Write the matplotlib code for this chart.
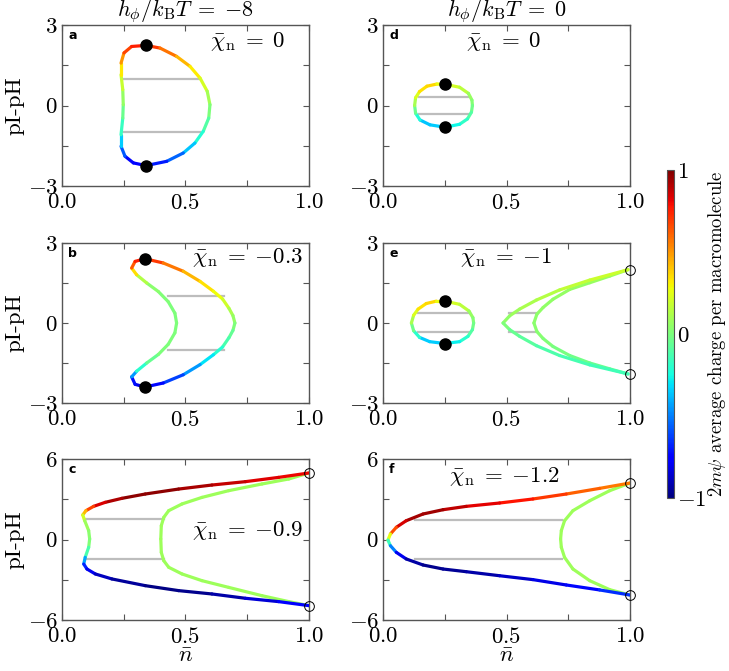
import numpy as np
import matplotlib
matplotlib.use("Agg")
import matplotlib.pyplot as plt
from matplotlib.collections import LineCollection
from matplotlib.colors import Normalize
from matplotlib.cm import ScalarMappable

plt.rcParams['font.family'] = 'serif'
plt.rcParams['font.serif'] = ['cmr10']
plt.rcParams['mathtext.fontset'] = 'cm'
plt.rcParams['axes.unicode_minus'] = False

# ---- panel a (h/kT=-8, chi=0) : closed loop from the top dot, clockwise ----
a_n = [0.340, 0.397, 0.464, 0.518, 0.559, 0.588, 0.599, 0.594, 0.572, 0.538, 0.491, 0.424, 0.340,
       0.289, 0.255, 0.239, 0.239, 0.246, 0.248, 0.246, 0.239, 0.239, 0.251, 0.282, 0.340]
a_y = [2.24, 2.14, 1.83, 1.46, 1.02, 0.53, 0.03, -0.47, -0.96, -1.40, -1.77, -2.08, -2.24,
       -2.14, -1.89, -1.52, -1.09, -0.47, 0.03, 0.59, 1.15, 1.58, 1.96, 2.20, 2.24]
a_q = [0.75, 0.65, 0.50, 0.36, 0.28, 0.15, 0.05, -0.05, -0.15, -0.28, -0.45, -0.65, -0.75,
       -0.80, -0.70, -0.45, -0.25, -0.08, 0.0, 0.12, 0.25, 0.40, 0.60, 0.75, 0.75]
a_dots_n = [0.340, 0.340]
a_dots_y = [2.24, -2.24]
a_tie_y = [0.99, -1.0]
a_tie_lo = [0.246, 0.246]
a_tie_hi = [0.56, 0.56]

# ---- panel b (h/kT=-8, chi=-0.3) ----
b_n = [0.336, 0.410, 0.491, 0.559, 0.613, 0.650, 0.676, 0.692, 0.700, 0.692, 0.676, 0.650, 0.613,
       0.559, 0.491, 0.410, 0.336, 0.296, 0.282, 0.302, 0.343, 0.390, 0.430, 0.457, 0.464,
       0.457, 0.430, 0.390, 0.343, 0.302, 0.282, 0.296, 0.336]
b_y = [2.41, 2.25, 1.94, 1.56, 1.19, 0.90, 0.55, 0.28, 0.0, -0.28, -0.55, -0.90, -1.19,
       -1.56, -1.94, -2.25, -2.40, -2.30, -2.02, -1.81, -1.50, -1.18, -0.80, -0.37, 0.0,
       0.37, 0.80, 1.18, 1.50, 1.81, 2.06, 2.31, 2.41]
b_q = [0.75, 0.65, 0.48, 0.38, 0.30, 0.25, 0.15, 0.08, 0.03, -0.03, -0.08, -0.16, -0.25,
       -0.35, -0.55, -0.70, -0.78, -0.85, -0.60, -0.30, -0.10, 0.0, 0.0, 0.0, 0.0,
       0.0, 0.0, 0.02, 0.05, 0.20, 0.50, 0.75, 0.75]
b_dots_n = [0.336, 0.336]
b_dots_y = [2.41, -2.40]
b_tie_y = [1.02, -1.0]
b_tie_lo = [0.43, 0.43]
b_tie_hi = [0.655, 0.655]

# ---- panel c (h/kT=-8, chi=-0.9) ----
c_out_n = [1.0, 0.877, 0.742, 0.607, 0.472, 0.337, 0.243, 0.175, 0.128, 0.097, 0.084, 0.092, 0.108,
           0.112, 0.108, 0.094, 0.088, 0.101, 0.135, 0.202, 0.337, 0.472, 0.607, 0.742, 0.877, 1.0]
c_out_y = [4.96, 4.63, 4.31, 4.06, 3.76, 3.39, 3.07, 2.77, 2.47, 2.15, 1.83, 1.40, 0.66,
           0.04, -0.58, -1.33, -1.83, -2.20, -2.57, -2.94, -3.44, -3.81, -4.06, -4.38, -4.63, -4.93]
c_out_q = [0.80, 0.82, 0.85, 0.90, 0.95, 1.0, 0.95, 0.88, 0.80, 0.55, 0.30, 0.12, 0.05,
           0.02, 0.0, -0.25, -0.60, -0.75, -0.85, -0.92, -0.98, -1.0, -0.95, -0.90, -0.80, -0.75]
c_in_n = [1.0, 0.918, 0.810, 0.675, 0.567, 0.486, 0.432, 0.412, 0.402, 0.400,
          0.402, 0.412, 0.432, 0.486, 0.567, 0.675, 0.810, 0.918, 1.0]
c_in_y = [4.96, 4.51, 4.14, 3.64, 3.14, 2.65, 2.15, 1.65, 1.03, 0.04,
          -0.96, -1.58, -2.07, -2.57, -3.07, -3.57, -4.19, -4.63, -4.93]
c_in_q = [0.08] * len(c_in_n)
c_open_n = [1.0, 1.0]
c_open_y = [4.96, -4.93]
c_tie_y = [1.53, -1.45]
c_tie_lo = [0.088, 0.092]
c_tie_hi = [0.412, 0.412]

# ---- panel d (h/kT=0, chi=0) ----
d_n = [0.251, 0.31, 0.346, 0.360, 0.362, 0.358, 0.342, 0.31, 0.251, 0.19, 0.150, 0.132, 0.128,
       0.132, 0.148, 0.178, 0.218, 0.251]
d_y = [0.79, 0.68, 0.45, 0.2, 0.0, -0.25, -0.5, -0.70, -0.81, -0.72, -0.54, -0.29, 0.0,
       0.29, 0.52, 0.72, 0.80, 0.79]
d_q = [0.22, 0.20, 0.10, 0.04, 0.0, -0.05, -0.15, -0.22, -0.30, -0.40, -0.32, -0.12, 0.03,
       0.18, 0.28, 0.40, 0.32, 0.22]
d_dots_n = [0.251, 0.251]
d_dots_y = [0.79, -0.81]
d_tie_y = [0.33, -0.33]
d_tie_lo = [0.146, 0.146]
d_tie_hi = [0.351, 0.351]

# ---- panel e (h/kT=0, chi=-1) ----
e_n = [0.250, 0.31, 0.348, 0.364, 0.367, 0.362, 0.344, 0.31, 0.250, 0.189, 0.148, 0.124, 0.115,
       0.124, 0.142, 0.175, 0.216, 0.250]
e_y = [0.82, 0.70, 0.45, 0.20, 0.0, -0.25, -0.50, -0.70, -0.77, -0.70, -0.54, -0.29, 0.0,
       0.29, 0.52, 0.73, 0.82, 0.82]
e_q = [0.22, 0.20, 0.10, 0.04, 0.0, -0.05, -0.15, -0.25, -0.30, -0.40, -0.30, -0.10, 0.05,
       0.18, 0.28, 0.40, 0.32, 0.22]
e_dots_n = [0.250, 0.250]
e_dots_y = [0.82, -0.77]
e_l_n = [0.992, 0.837, 0.715, 0.621, 0.553, 0.513, 0.486, 0.513, 0.553, 0.621, 0.715, 0.837, 0.992]
e_l_y = [2.0, 1.61, 1.24, 0.86, 0.52, 0.27, 0.0, -0.25, -0.50, -0.85, -1.22, -1.57, -1.91]
e_l_q = [0.20, 0.18, 0.15, 0.12, 0.10, 0.07, 0.03, -0.03, -0.07, -0.10, -0.12, -0.14, -0.15]
e_r_n = [0.992, 0.918, 0.837, 0.756, 0.688, 0.648, 0.623, 0.611, 0.623, 0.648, 0.688, 0.756, 0.837, 0.918, 0.992]
e_r_y = [2.0, 1.76, 1.51, 1.26, 0.89, 0.58, 0.33, 0.0, -0.32, -0.58, -0.88, -1.22, -1.50, -1.72, -1.91]
e_r_q = [0.08, 0.07, 0.06, 0.06, 0.05, 0.05, 0.05, 0.04, 0.03, 0.02, 0.0, -0.02, -0.04, -0.06, -0.08]
e_open_n = [1.0, 1.0]
e_open_y = [2.0, -1.91]
e_tie_y = [0.37, -0.32, 0.37, -0.32]
e_tie_lo = [0.142, 0.142, 0.51, 0.51]
e_tie_hi = [0.354, 0.354, 0.623, 0.623]

# ---- panel f (h/kT=0, chi=-1.2) ----
f_out_n = [1.0, 0.877, 0.742, 0.607, 0.472, 0.337, 0.243, 0.162, 0.094, 0.054, 0.030, 0.020,
           0.030, 0.054, 0.094, 0.162, 0.243, 0.337, 0.472, 0.607, 0.742, 0.877, 1.0]
f_out_y = [4.21, 3.81, 3.39, 3.02, 2.72, 2.47, 2.22, 1.90, 1.40, 0.91, 0.41, -0.04,
           -0.46, -0.96, -1.45, -1.90, -2.20, -2.40, -2.70, -2.99, -3.39, -3.76, -4.14]
f_out_q = [0.55, 0.58, 0.65, 0.75, 0.80, 0.85, 0.92, 0.97, 0.90, 0.80, 0.50, 0.0,
           -0.30, -0.70, -0.90, -0.97, -0.97, -0.95, -0.90, -0.85, -0.78, -0.70, -0.62]
f_in_n = [1.0, 0.918, 0.837, 0.769, 0.735, 0.722, 0.719, 0.722, 0.735, 0.769, 0.837, 0.918, 1.0]
f_in_y = [4.21, 3.64, 2.89, 2.15, 1.40, 0.66, 0.04, -0.58, -1.33, -2.20, -3.07, -3.74, -4.14]
f_in_q = [0.08] * len(f_in_n)
f_open_n = [1.0, 1.0]
f_open_y = [4.21, -4.14]
f_tie_y = [1.48, -1.45]
f_tie_lo = [0.128, 0.128]
f_tie_hi = [0.726, 0.726]

cmap = plt.get_cmap('jet')
norm = Normalize(-1, 1)


def draw_curve(ax, n, y, q):
    pts = np.column_stack([n, y]).reshape(-1, 1, 2)
    segs = np.concatenate([pts[:-1], pts[1:]], axis=1)
    qq = np.asarray(q, dtype=float)
    lc = LineCollection(segs, cmap=cmap, norm=norm, linewidth=2.3, capstyle='round',
                        joinstyle='round', zorder=3)
    lc.set_array(0.5 * (qq[:-1] + qq[1:]))
    ax.add_collection(lc)


def draw_ties(ax, ty, lo, hi):
    for yy, a, b in zip(ty, lo, hi):
        ax.plot([a, b], [yy, yy], color='#bdbdbd', lw=1.6, zorder=2)


fig = plt.figure(figsize=(7.29, 6.71), dpi=100)
W, H = 729, 671


def make_ax(x0, y0, x1, y1):
    return fig.add_axes([x0 / W, 1 - y1 / H, (x1 - x0) / W, (y1 - y0) / H])


axa = make_ax(62, 25, 309, 186)
axb = make_ax(62, 243, 309, 403)
axc = make_ax(62, 459, 309, 620)
axd = make_ax(383, 25, 630, 186)
axe = make_ax(383, 243, 630, 403)
axf = make_ax(383, 459, 630, 620)

for ax, lim in [(axa, 3), (axb, 3), (axd, 3), (axe, 3), (axc, 6), (axf, 6)]:
    ax.set_xlim(0, 1)
    ax.set_ylim(-lim, lim)
    ax.set_xticks([0, 0.5, 1.0])
    ax.set_xticklabels(['$0.0$', '$0.5$', '$1.0$'])
    ax.set_xticks([0.25, 0.75], minor=True)
    ax.set_yticks([-lim, 0, lim])
    ax.set_yticklabels(['$-%d$' % lim, '$0$', '$%d$' % lim])
    ax.set_yticks([-lim / 2, lim / 2], minor=True)
    ax.tick_params(which='both', direction='in', top=True, right=True, labelsize=16.5,
                   color='#555555', length=4, width=0.8)
    ax.tick_params(axis='x', pad=5)
    ax.tick_params(axis='y', pad=3)
    for s in ax.spines.values():
        s.set_color('#555555')
        s.set_linewidth(1.0)

dot = dict(color='black', ms=8, zorder=5, ls='none', marker='o')
ring = dict(mfc='none', mec='black', mew=0.7, ms=7, zorder=5, clip_on=False, ls='none', marker='o')

# panel a
draw_ties(axa, a_tie_y, a_tie_lo, a_tie_hi)
draw_curve(axa, a_n, a_y, a_q)
axa.plot(a_dots_n, a_dots_y, **dot)

# panel b
draw_ties(axb, b_tie_y, b_tie_lo, b_tie_hi)
draw_curve(axb, b_n, b_y, b_q)
axb.plot(b_dots_n, b_dots_y, **dot)

# panel c
draw_ties(axc, c_tie_y, c_tie_lo, c_tie_hi)
draw_curve(axc, c_in_n, c_in_y, c_in_q)
draw_curve(axc, c_out_n, c_out_y, c_out_q)
axc.plot(c_open_n, c_open_y, **ring)

# panel d
draw_ties(axd, d_tie_y, d_tie_lo, d_tie_hi)
draw_curve(axd, d_n, d_y, d_q)
axd.plot(d_dots_n, d_dots_y, **dot)

# panel e
draw_ties(axe, e_tie_y, e_tie_lo, e_tie_hi)
draw_curve(axe, e_n, e_y, e_q)
draw_curve(axe, e_r_n, e_r_y, e_r_q)
draw_curve(axe, e_l_n, e_l_y, e_l_q)
axe.plot(e_dots_n, e_dots_y, **dot)
axe.plot(e_open_n, e_open_y, **ring)

# panel f
draw_ties(axf, f_tie_y, f_tie_lo, f_tie_hi)
draw_curve(axf, f_in_n, f_in_y, f_in_q)
draw_curve(axf, f_out_n, f_out_y, f_out_q)
axf.plot(f_open_n, f_open_y, **ring)

# annotations
chi = r'$\bar{\chi}_\mathrm{n}\;=\;{%s}$'
axa.text(0.75, 2.37, chi % '0', fontsize=16.5, ha='center', va='center')
axb.text(0.75, 2.45, chi % '-0.3', fontsize=16.5, ha='center', va='center')
axc.text(0.75, 0.7, chi % '-0.9', fontsize=16.5, ha='center', va='center')
axd.text(0.49, 2.37, chi % '0', fontsize=16.5, ha='center', va='center')
axe.text(0.50, 2.45, chi % '-1', fontsize=16.5, ha='center', va='center')
axf.text(0.49, 4.7, chi % '-1.2', fontsize=16.5, ha='center', va='center')

for ax, lab in zip([axa, axb, axc, axd, axe, axf], 'abcdef'):
    ax.text(0.025, 0.935, lab, transform=ax.transAxes, fontsize=9, fontweight='bold',
            family='DejaVu Sans', ha='left', va='center')

axa.set_title(r'$h_\phi/k_\mathrm{B}T\;=\;{-8}$', fontsize=16, pad=0.5)
axd.set_title(r'$h_\phi/k_\mathrm{B}T\;=\;{0}$', fontsize=16, pad=0.5)

for ax in [axa, axb, axc]:
    ax.set_ylabel('pI-pH', fontsize=16.5, labelpad=2)
for ax in [axc, axf]:
    ax.set_xlabel(r'$\bar{n}$', fontsize=16.5, labelpad=0)

# colorbar
cax = fig.add_axes([667 / W, 1 - 498 / H, 7 / W, 328 / H])
sm = ScalarMappable(norm=norm, cmap=cmap)
cb = fig.colorbar(sm, cax=cax, ticks=[-1, 0, 1])
cb.ax.set_yticklabels(['$-1$', '$0$', '$1$'])
cb.ax.tick_params(labelsize=16.5, length=0, pad=2)
cb.outline.set_edgecolor('#555555')
cb.set_label(r'$2m\psi$ average charge per macromolecule', fontsize=13.5, labelpad=0)

fig.savefig('out.png', dpi=100)
